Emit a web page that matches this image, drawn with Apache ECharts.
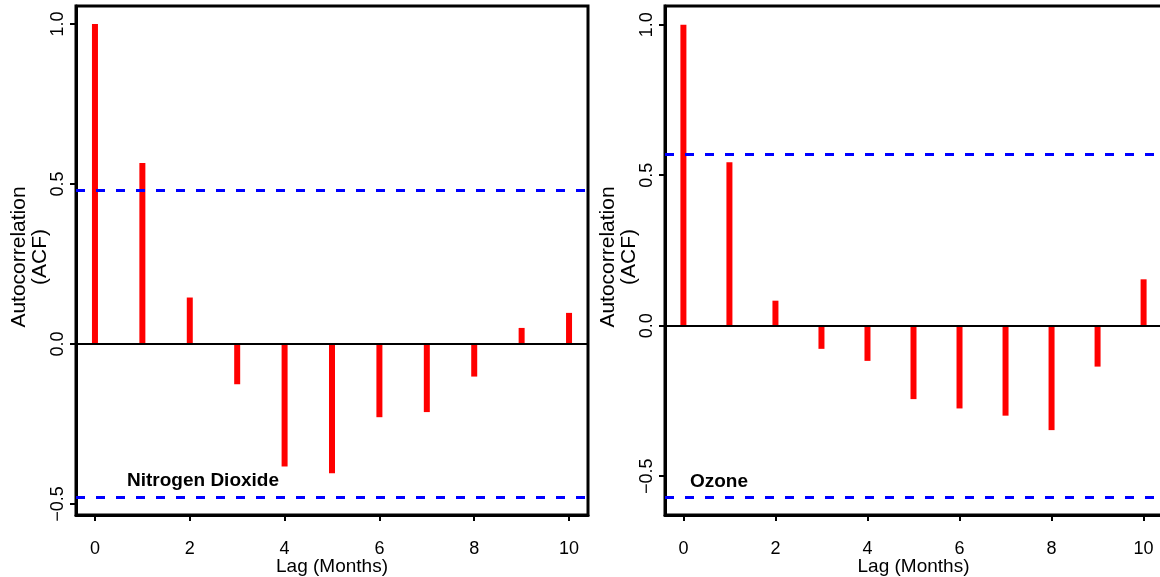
<!DOCTYPE html>
<html>
<head>
<meta charset="utf-8">
<script src="https://cdn.jsdelivr.net/npm/echarts@6/dist/echarts.min.js"></script>
<style>
  html, body { margin:0; padding:0; background:#fff; }
  #main { width:1160px; height:577px; }
</style>
</head>
<body>
<div id="main"></div>
<script>
	var lags = [0, 1, 2, 3, 4, 5, 6, 7, 8, 9, 10];
	var no2Acf = [1, 0.565, 0.145, -0.126, -0.383, -0.404, -0.229, -0.213, -0.102, 0.05, 0.097];
	var o3Acf = [1, 0.543, 0.083, -0.077, -0.117, -0.244, -0.275, -0.299, -0.347, -0.136, 0.154];
	var no2Ci = 0.477;
	var o3Ci = 0.567;
	var xTicks = [0, 2, 4, 6, 8, 10];
	var yTicks = [-0.5, 0, 0.5, 1];
	var panelNames = ['Nitrogen Dioxide', 'Ozone'];

	var font = 'Liberation Sans, Arial, sans-serif';

	function pairs(vals){
		var out = [];
		for(var i=0;i<lags.length;i++){
			out.push([lags[i], vals[i]]);
		}
		return out;
	}

	function makeX(idx){
		return {
			type:'value', gridIndex:idx, min:-0.4, max:10.4, position:'bottom',
			name:'Lag (Months)', nameLocation:'middle', nameGap:42, nameMoveOverlap:false,
			nameTextStyle:{color:'#000', fontSize:19, fontFamily:font},
			axisLine:{show:true, onZero:false, lineStyle:{color:'#000', width:3}},
			splitLine:{show:false},
			axisTick:{show:true, inside:false, length:6, lineStyle:{color:'#000', width:2}, customValues:xTicks},
			axisLabel:{color:'#000', fontSize:18, fontFamily:font, margin:25, customValues:xTicks}
		};
	}

	function makeY(idx, mn, mx){
		return {
			type:'value', gridIndex:idx, min:mn, max:mx, position:'left',
			axisLine:{show:true, onZero:false, lineStyle:{color:'#000', width:3}},
			splitLine:{show:false},
			axisTick:{show:true, inside:false, length:6, lineStyle:{color:'#000', width:2}, customValues:yTicks},
			axisLabel:{color:'#000', fontSize:18, fontFamily:font, margin:9, rotate:90,
				customValues:yTicks,
				formatter:function(v){ return (v<0 ? '\u2212' : '') + Math.abs(v).toFixed(1); }}
		};
	}

	function makeBars(idx, vals, ci){
		return {
			type:'bar', xAxisIndex:idx, yAxisIndex:idx,
			data:pairs(vals), barWidth:6,
			itemStyle:{color:'#ff0000'},
			markLine:{
				silent:true, symbol:['none','none'], label:{show:false},
				data:[
					{yAxis:0, lineStyle:{color:'#000', width:2, type:'solid'}},
					{yAxis:ci, lineStyle:{color:'#0000ff', width:3, type:[9,11]}},
					{yAxis:-ci, lineStyle:{color:'#0000ff', width:3, type:[9,11]}}
				]
			}
		};
	}

	function yTitle(cx){
		return {
			type:'text', x:cx, y:257, rotation:Math.PI/2,
			style:{text:'Autocorrelation\n(ACF)', fill:'#000', font:'21px ' + font,
				textAlign:'center', textVerticalAlign:'middle', lineHeight:21}
		};
	}

	var myChart = echarts.init(document.getElementById('main'));
	myChart.setOption({
		animation:false,
		backgroundColor:'#fff',
		grid:[
			{left:76, top:6, width:512, height:509, show:true, borderColor:'#000', borderWidth:3,
				containLabel:false, outerBoundsMode:'none'},
			{left:665, top:6, width:497, height:509, show:true, borderColor:'#000', borderWidth:3,
				containLabel:false, outerBoundsMode:'none'}
		],
		xAxis:[makeX(0), makeX(1)],
		yAxis:[makeY(0, -0.5346, 1.056), makeY(1, -0.629, 1.062)],
		series:[makeBars(0, no2Acf, no2Ci), makeBars(1, o3Acf, o3Ci)],
		graphic:[
			yTitle(30),
			yTitle(619),
			{type:'text', x:203, y:481, style:{text:panelNames[0], fill:'#000',
				font:'bold 19px ' + font, textAlign:'center', textVerticalAlign:'middle'}},
			{type:'text', x:719, y:482, style:{text:panelNames[1], fill:'#000',
				font:'bold 19px ' + font, textAlign:'center', textVerticalAlign:'middle'}}
		]
	});
</script>
</body>
</html>
